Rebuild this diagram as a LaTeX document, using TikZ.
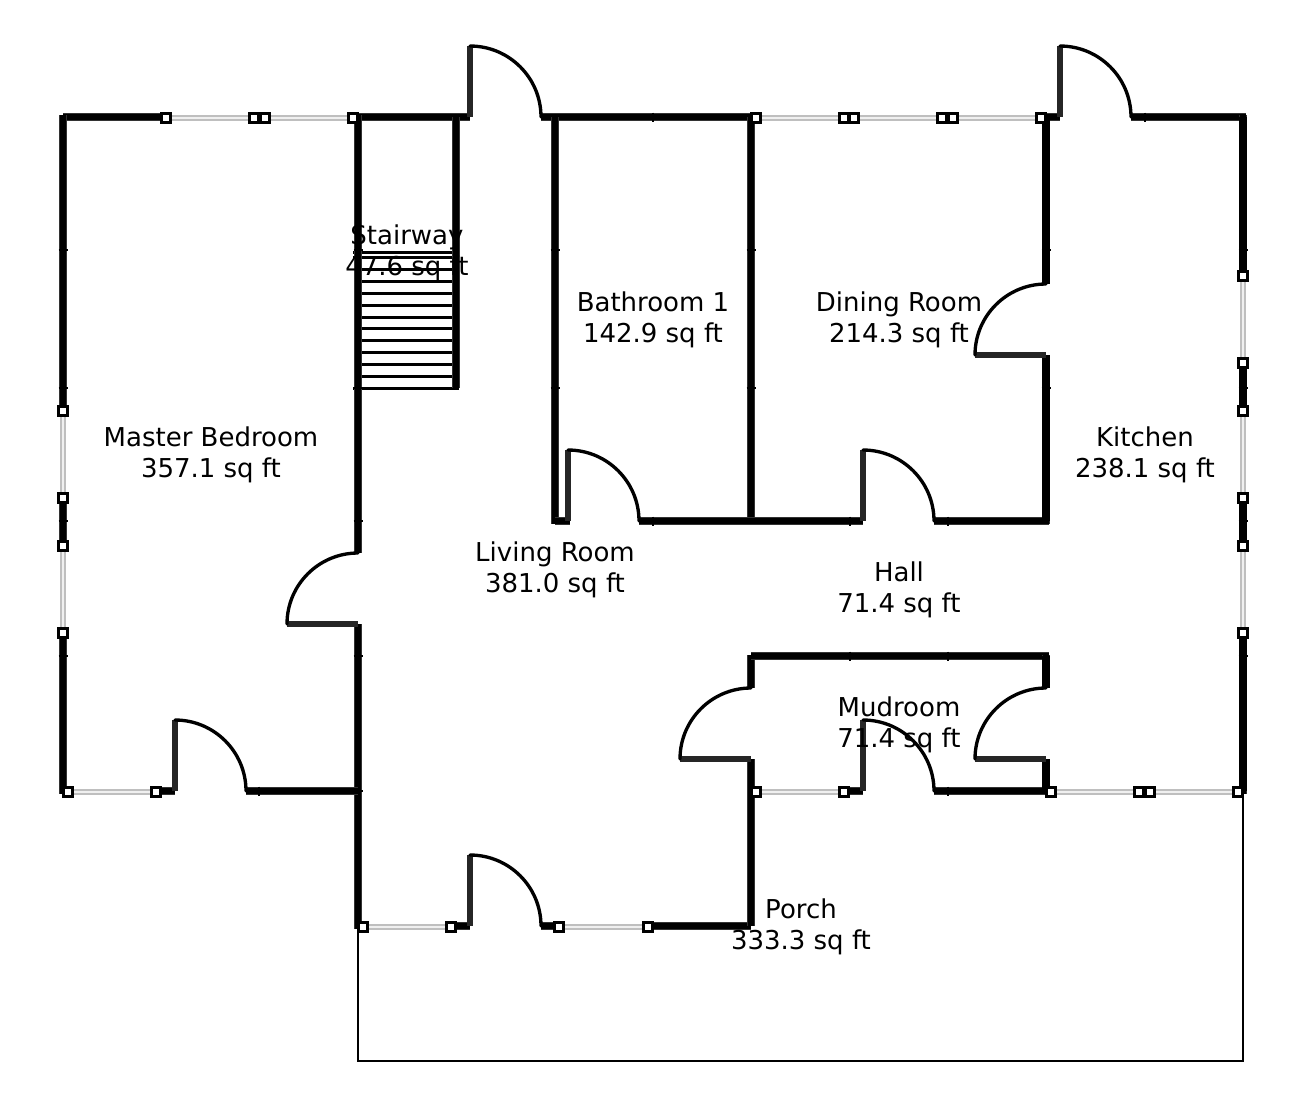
\documentclass[tikz,border=0pt]{standalone}
\usepackage{fontspec}
\setmainfont{DejaVu Sans}
\tikzset{
  wall/.style={line width=2.05pt, draw=black!80},
  wall-core/.style={line width=1.45pt, draw=black},
  wall-heavy/.style={line width=2.3pt, draw=black},
  door/.style={line width=0.95pt, draw=black, line cap=round},
  leaf/.style={line width=1.45pt, draw=black!85},
  tread/.style={line width=0.85pt, draw=black},
  joint/.style={line width=0.6pt, draw=black},
  porch/.style={line width=0.8pt, draw=black},
  glass/.style={line width=1.7pt, draw=black!25},
  glass-core/.style={line width=0.8pt, draw=black!6},
  pane-end/.style={rectangle, fill=white, draw=black, line width=0.85pt, minimum size=2.7pt, inner sep=0pt},
  room/.style={align=center, font=\fontsize{7.39}{8.8}\selectfont, inner sep=0pt}
}
\begin{document}
\begin{tikzpicture}[x=0.01cm, y=-0.01cm]
  \useasboundingbox (0,0) rectangle (1305,1108);

  % Porch outline goes under everything
  \draw[porch] (358,926) -- (358,1061) -- (1243,1061) -- (1243,791);

  % Stair treads
  \foreach \y in {269,281,293,305,317,328,340,352,364,376}
    \draw[tread] (358,\y) -- (456,\y);
  \foreach \y in {252,257,388}
    \draw[tread] (353,\y) -- (459,\y);

  % Walls: x1/y1/x2/y2
  \foreach \xa/\ya/\xb/\yb in {
    63/117/163/117, 353/117/470/117, 541/117/751/117, 1041/117/1060/117, 1131/117/1246/117,
    63/115/63/411, 63/498/63/546, 63/633/63/794,
    358/115/358/553, 358/624/358/929, 456/117/456/388,
    555/117/555/524, 751/117/751/524, 1046/117/1046/284, 1046/355/1046/524,
    555/521/570/521, 639/521/863/521, 934/521/1049/521,
    1243/115/1243/276, 1243/363/1243/411, 1243/498/1243/546, 1243/633/1243/794,
    156/791/175/791, 246/791/358/791,
    451/926/470/926, 541/926/555/926, 648/926/751/926,
    751/655/751/688, 751/759/751/926, 751/656/1049/656,
    1046/655/1046/688, 1046/759/1046/794,
    844/791/863/791, 934/791/1046/791}{
    \draw[wall] (\xa,\ya) -- (\xb,\yb);
    \draw[wall-core] (\xa,\ya) -- (\xb,\yb);
  }

  % Heavier stretches
  \foreach \xa/\ya/\xb/\yb in {
    1046/656/1046/688, 1046/759/1046/791, 1046/117/1046/284, 1046/355/1046/521,
    1243/117/1243/276, 1243/363/1243/411, 1243/498/1243/546, 1243/633/1243/791}
    \draw[wall-heavy] (\xa,\ya) -- (\xb,\yb);

  % Joints along the walls
  \foreach \x/\y in {653/117, 850/521, 948/521, 653/521, 850/656, 948/656, 948/791, 259/791, 1145/117}
    \draw[joint] (\x,\y-4.5) -- (\x,\y+4.5);
  \foreach \x/\y in {63/250, 63/388, 63/521, 63/656, 358/250, 358/388, 358/521, 358/656, 358/791,
                     555/250, 555/388, 751/250, 751/388, 1046/250, 1046/388, 1243/250, 1243/388, 1243/521, 1243/656}
    \draw[joint] (\x-4.5,\y) -- (\x+4.5,\y);

  % Windows, from pane end to pane end
  \foreach \xa/\ya/\xb/\yb [count=\n] in {
    166/118/254/118, 265/118/353/118, 756/118/844/118, 854/118/942/118, 953/118/1041/118,
    63/411/63/498, 63/546/63/633,
    1243/276/1243/363, 1243/411/1243/498, 1243/546/1243/633,
    68/792/156/792, 756/792/844/792, 1051/792/1139/792, 1150/792/1238/792,
    363/927/451/927, 559/927/648/927}{
    \node[pane-end] (pa\n) at (\xa,\ya) {};
    \node[pane-end] (pb\n) at (\xb,\yb) {};
    \draw[glass] (pa\n) -- (pb\n);
    \draw[glass-core] (pa\n) -- (pb\n);
  }

  % Doors opening up, hinge on the wall
  \foreach \x/\y in {470/117, 1060/117, 568/521, 863/521, 175/791, 863/791, 470/926}{
    \draw[leaf] (\x,\y) -- (\x,\y-71);
    \draw[door] (\x,\y-71) arc[start angle=-90, end angle=0, radius=71];
  }

  % Doors opening left
  \foreach \x/\y in {358/624, 1046/355, 751/759, 1046/759}{
    \draw[leaf] (\x,\y) -- (\x-71,\y);
    \draw[door] (\x-71,\y) arc[start angle=180, end angle=270, radius=71];
  }

  % Room labels
  \node[room] (bedroom) at (211,455) {Master Bedroom\\357.1 sq ft};
  \node[room] (stairway) at (407,253) {Stairway\\47.6 sq ft};
  \node[room] (bathroom) at (653,320) {Bathroom 1\\142.9 sq ft};
  \node[room] (dining) at (899,320) {Dining Room\\214.3 sq ft};
  \node[room] (kitchen) at (1145,455) {Kitchen\\238.1 sq ft};
  \node[room] (living) at (555,570) {Living Room\\381.0 sq ft};
  \node[room] (hall) at (899,590) {Hall\\71.4 sq ft};
  \node[room] (mudroom) at (899,725) {Mudroom\\71.4 sq ft};
  \node[room] (porchlabel) at (801,927) {Porch\\333.3 sq ft};
\end{tikzpicture}
\end{document}
